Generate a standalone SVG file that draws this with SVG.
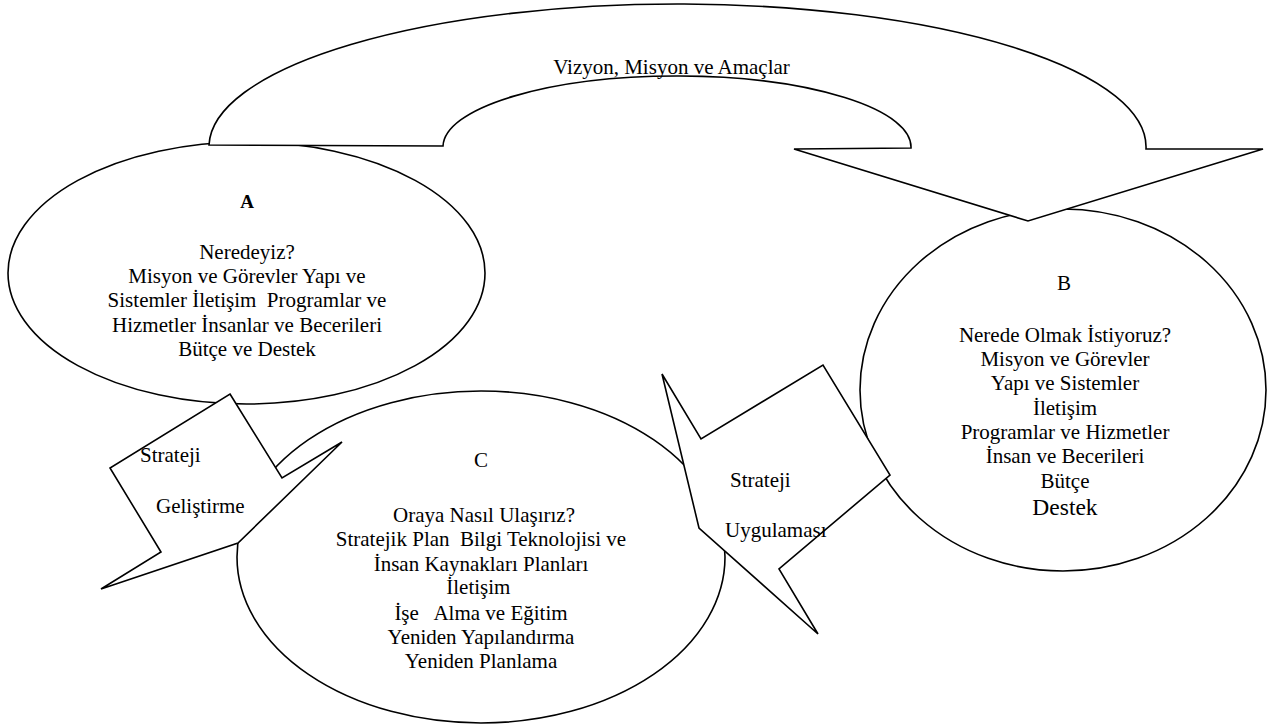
<svg xmlns="http://www.w3.org/2000/svg" width="1272" height="724" viewBox="0 0 1272 724">
<style>
.sh{fill:#fff;stroke:#000;stroke-width:1.6;stroke-linejoin:miter}
.t{font-family:"Liberation Serif","Times New Roman",serif;font-size:21px;fill:#000;white-space:pre}
.c{text-anchor:middle}
</style>
<rect width="1272" height="724" fill="#fff"/>
<g id="nodeA">
<ellipse class="sh" cx="246.5" cy="273" rx="238.5" ry="131"/>
<text class="t c" x="247" y="208" style="font-weight:bold;font-size:19px">A</text>
<text class="t c" x="247" y="259">Neredeyiz?</text>
<text class="t c" x="247" y="283">Misyon ve Görevler Yapı ve</text>
<text class="t c" x="247" y="307">Sistemler İletişim  Programlar ve</text>
<text class="t c" x="247" y="332">Hizmetler İnsanlar ve Becerileri</text>
<text class="t c" x="247" y="356">Bütçe ve Destek</text>
</g>
<g id="nodeB">
<ellipse class="sh" cx="1063" cy="390" rx="203" ry="181"/>
<text class="t c" x="1064" y="290">B</text>
<text class="t c" x="1065" y="342">Nerede Olmak İstiyoruz?</text>
<text class="t c" x="1065" y="366">Misyon ve Görevler</text>
<text class="t c" x="1065" y="390">Yapı ve Sistemler</text>
<text class="t c" x="1065" y="415">İletişim</text>
<text class="t c" x="1065" y="439">Programlar ve Hizmetler</text>
<text class="t c" x="1065" y="463">İnsan ve Becerileri</text>
<text class="t c" x="1065" y="488">Bütçe</text>
<text class="t c" x="1065" y="515" style="font-size:23.5px">Destek</text>
</g>
<g id="nodeC">
<ellipse class="sh" cx="481" cy="557" rx="244" ry="166"/>
<text class="t c" x="481" y="467">C</text>
<text class="t c" x="484" y="522">Oraya Nasıl Ulaşırız?</text>
<text class="t c" x="481" y="546">Stratejik Plan  Bilgi Teknolojisi ve</text>
<text class="t c" x="481" y="571">İnsan Kaynakları Planları</text>
<text class="t c" x="481" y="594">İletişim </text>
<text class="t c" x="481" y="620">İşe   Alma ve Eğitim</text>
<text class="t c" x="481" y="644">Yeniden Yapılandırma</text>
<text class="t c" x="481" y="668">Yeniden Planlama</text>
</g>
<g id="connectors">
<g id="vision-arrow">
<path class="sh" d="M209,145 A468.5,143 0 0 1 1146,149 L1263,149 L1028,221 L794,149 L911,148 A234,71 0 0 0 443,146 Z"/>
<text class="t c" x="671.5" y="74">Vizyon, Misyon ve Amaçlar</text>
</g>
<g id="strategy-development">
<polygon class="sh" points="230,394 282,478 342,442 238,543 101,589 161,552 110,468"/>
<text class="t" x="140" y="462">Strateji</text>
<text class="t" x="156" y="513">Geliştirme</text>
</g>
<g id="strategy-implementation">
<polygon class="sh" points="662,374 701,439 823,365 890,475 779,569 818,634 699,528"/>
<text class="t" x="730" y="487">Strateji</text>
<text class="t" x="725" y="537">Uygulaması</text>
</g>
</g>
</svg>
